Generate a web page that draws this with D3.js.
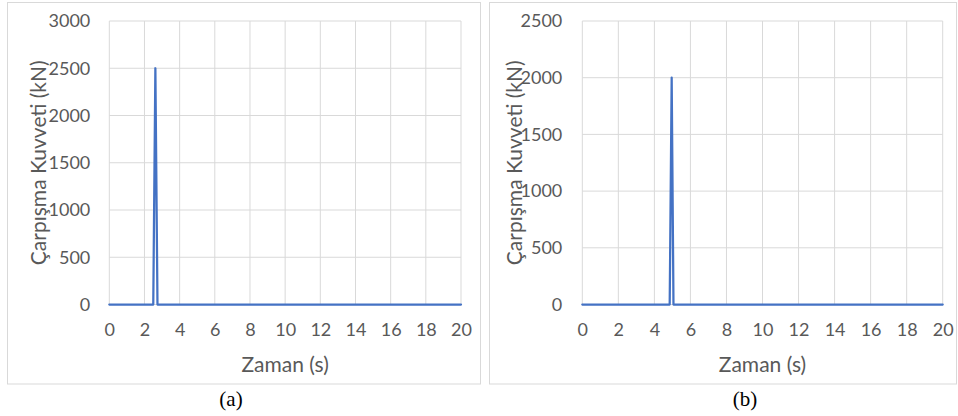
<!DOCTYPE html>
<html><head><meta charset="utf-8">
<script src="https://cdn.jsdelivr.net/npm/d3@7"></script>
<style>body{margin:0;background:#fff}svg{display:block}</style>
</head><body>
<svg id="c" width="958" height="416"></svg>
<script>
// Data
const xTicks = [0,2,4,6,8,10,12,14,16,18,20];
const yTicksA = [0,500,1000,1500,2000,2500,3000];
const yTicksB = [0,500,1000,1500,2000,2500];
const timeA = [0, 2.5, 2.62, 2.74, 20];
const forceA = [0, 0, 2500, 0, 0];
const timeB = [0, 4.85, 4.96, 5.06, 20];
const forceB = [0, 0, 2000, 0, 0];
const yTitle = "Çarpışma Kuvveti (kN)";
const xTitle = "Zaman (s)";
const captions = ["(a)", "(b)"];

const svg = d3.select("#c");
const font = "Lato, 'Open Sans', sans-serif";
const txt = "#595959", grid = "#d9d9d9", lineC = "#4472c4";

function panel(o) {
  const g = svg.append("g");
  g.append("rect").attr("x", o.bx).attr("y", 2.5).attr("width", o.bw).attr("height", 381.5)
    .attr("fill", "#fff").attr("stroke", grid).attr("stroke-width", 1);
  const x = d3.scaleLinear().domain([0, 20]).range([o.x0, o.x1]);
  const y = d3.scaleLinear().domain([0, o.ymax]).range([304.5, 21]);
  // grid
  g.append("g").selectAll("line").data(o.yt).join("line")
    .attr("x1", o.x0).attr("x2", o.x1).attr("y1", d => y(d)).attr("y2", d => y(d))
    .attr("stroke", grid).attr("stroke-width", 1);
  g.append("g").selectAll("line").data(xTicks).join("line")
    .attr("x1", d => x(d)).attr("x2", d => x(d)).attr("y1", y(0)).attr("y2", y(o.ymax))
    .attr("stroke", grid).attr("stroke-width", 1);
  // axes
  const ya = g.append("g").attr("transform", `translate(${o.x0},0)`)
    .call(d3.axisLeft(y).tickValues(o.yt).tickSize(0).tickPadding(o.ypad).tickFormat(d3.format("d")));
  ya.select(".domain").remove();
  ya.selectAll("text").attr("font-family", font).attr("font-size", 18).attr("fill", txt);
  const xa = g.append("g").attr("transform", `translate(0,${y(0)})`)
    .call(d3.axisBottom(x).tickValues(xTicks).tickSize(0).tickPadding(19).tickFormat(d3.format("d")));
  xa.select(".domain").remove();
  xa.selectAll("text").attr("font-family", font).attr("font-size", 18).attr("fill", txt);
  // line
  const data = o.t.map((t, i) => [t, o.f[i]]);
  g.append("path").datum(data)
    .attr("d", d3.line().x(d => x(d[0])).y(d => y(d[1])))
    .attr("fill", "none").attr("stroke", lineC).attr("stroke-width", 2.25)
    .attr("stroke-linejoin", "round").attr("stroke-linecap", "round");
  // titles
  g.append("text").attr("transform", `translate(${o.tx},${(y(0)+y(o.ymax))/2}) rotate(-90)`)
    .attr("text-anchor", "middle")
    .attr("font-family", font).attr("font-size", 21).attr("fill", txt).text(yTitle);
  g.append("text").attr("x", (o.x0 + o.x1) / 2).attr("y", 372).attr("text-anchor", "middle")
    .attr("font-family", font).attr("font-size", 21).attr("fill", txt).text(xTitle);
  g.append("text").attr("x", o.cx).attr("y", 406).attr("text-anchor", "middle")
    .attr("font-family", "'Liberation Serif', 'Times New Roman', serif").attr("font-size", 21).attr("fill", "#000").text(o.cap);
}

panel({bx: 7.5, bw: 473, x0: 109.3, x1: 461, ymax: 3000, yt: yTicksA, t: timeA, f: forceA, tx: 46, ypad: 19, cx: 231, cap: captions[0]});
panel({bx: 489.5, bw: 467, x0: 582.3, x1: 942.7, ymax: 2500, yt: yTicksB, t: timeB, f: forceB, tx: 522, ypad: 20, cx: 745, cap: captions[1]});
</script>
</body></html>
